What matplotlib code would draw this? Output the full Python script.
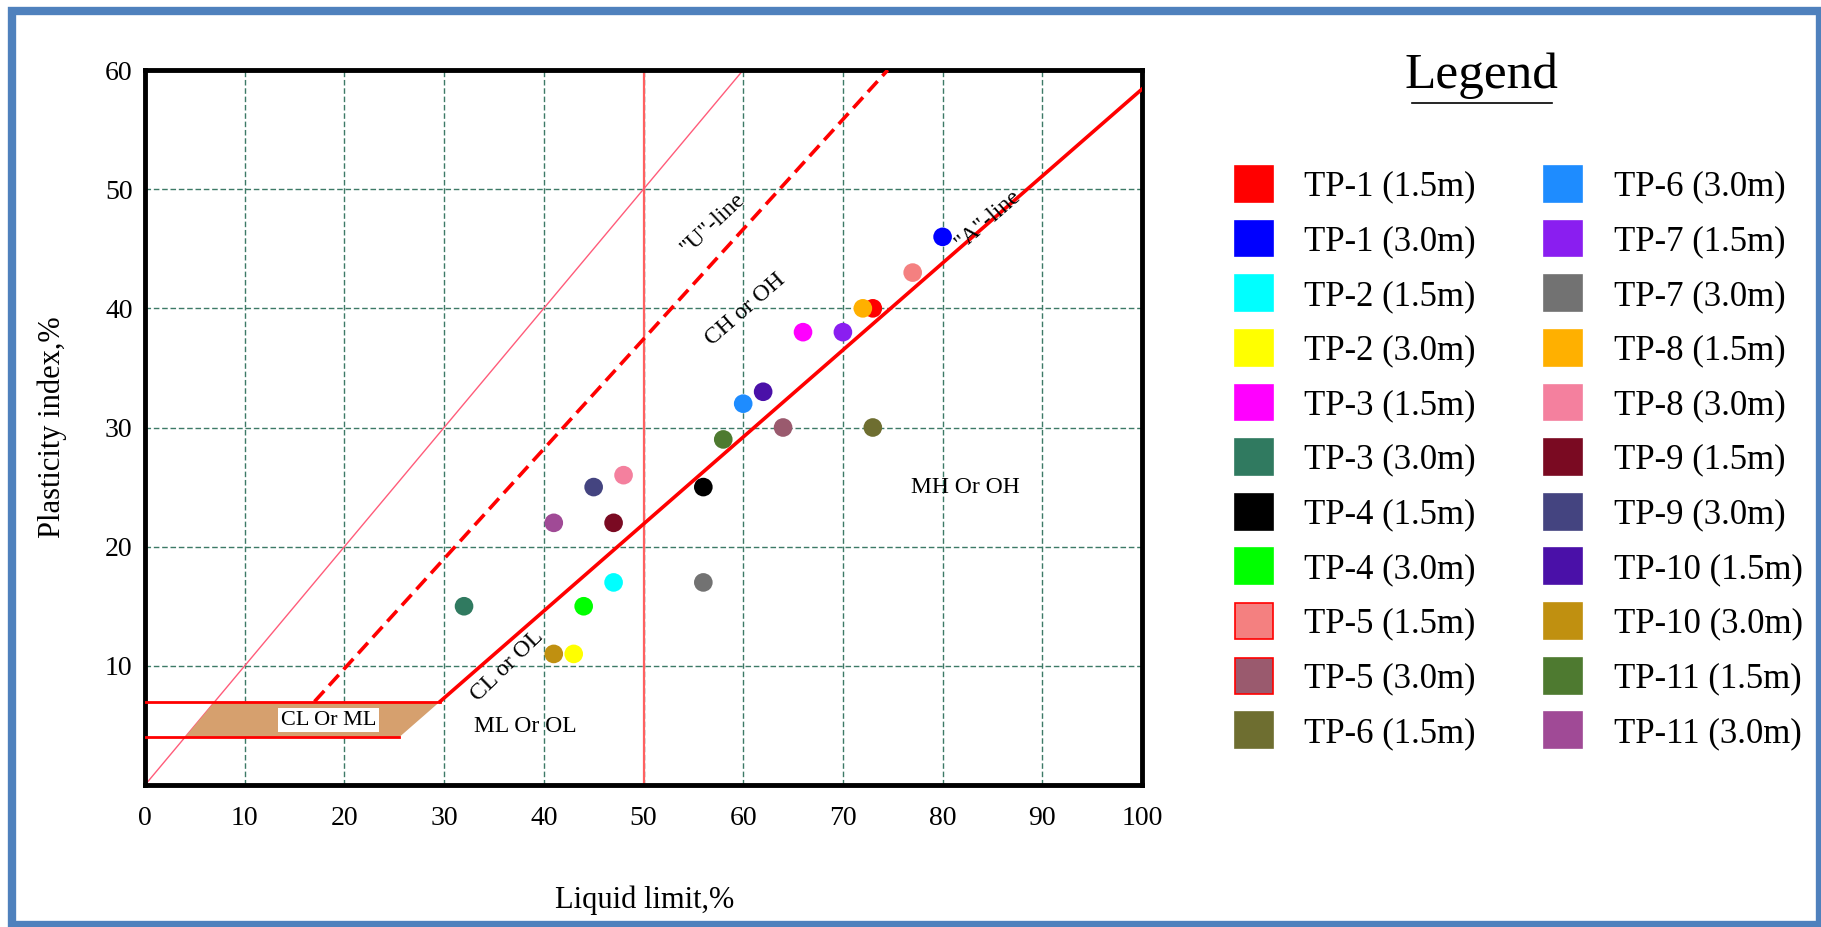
import numpy as np
import matplotlib
matplotlib.use("Agg")
import matplotlib.pyplot as plt
from matplotlib.patches import Patch, Rectangle, Polygon
from matplotlib.lines import Line2D

plt.rcParams['font.family'] = ['Liberation Serif', 'DejaVu Serif']

# samples: name, liquid limit, plasticity index, colour
samples = ['TP-1 (1.5m)', 'TP-1 (3.0m)', 'TP-2 (1.5m)', 'TP-2 (3.0m)',
           'TP-3 (1.5m)', 'TP-3 (3.0m)', 'TP-4 (1.5m)', 'TP-4 (3.0m)',
           'TP-5 (1.5m)', 'TP-5 (3.0m)', 'TP-6 (1.5m)', 'TP-6 (3.0m)',
           'TP-7 (1.5m)', 'TP-7 (3.0m)', 'TP-8 (1.5m)', 'TP-8 (3.0m)',
           'TP-9 (1.5m)', 'TP-9 (3.0m)', 'TP-10 (1.5m)', 'TP-10 (3.0m)',
           'TP-11 (1.5m)', 'TP-11 (3.0m)']
liquid_limit = [73, 80, 47, 43, 66, 32, 56, 44, 77, 64, 73,
                60, 70, 56, 72, 48, 47, 45, 62, 41, 58, 41]
plastic_index = [40, 46, 17, 11, 38, 15, 25, 15, 43, 30, 30,
                 32, 38, 17, 40, 26, 22, 25, 33, 11, 29, 22]
colors = ['#ff0000', '#0000ff', '#00ffff', '#ffff00', '#ff00ff', '#307a60',
          '#000000', '#00ff00', '#f48080', '#9a5a6e', '#6e6e30', '#1e8cff',
          '#8a1ef0', '#727272', '#ffb000', '#f4809e', '#7a0a22', '#444480',
          '#4a10a8', '#c09010', '#4e7a30', '#a04a96']
legend_edges = ['none'] * len(samples)
legend_edges[8] = '#ff0000'
legend_edges[9] = '#ff0000'

# chart lines
u_line_ll = [17.0, 74.5]
u_line_pi = [7, 60]

fig = plt.figure(figsize=(18.21, 9.27), dpi=100)
ax = fig.add_axes([145 / 1821, 1 - 785 / 927, 997 / 1821, 715 / 927])

ax.set_xlim(0, 100)
ax.set_ylim(0, 60)
ax.set_xticks(range(0, 101, 10))
ax.set_yticks(range(10, 61, 10))
ax.tick_params(length=0, labelsize=20)
ax.tick_params(axis='x', pad=15)
ax.tick_params(axis='y', pad=9)
ax.grid(True, color='#3d7a66', linestyle=(0, (4, 2)), linewidth=1)
for s in ax.spines.values():
    s.set_linewidth(3.5)
    s.set_color('black')

# reference lines
ax.axvline(50, color='#ff6060', lw=1.6, zorder=2)
ax.plot([0, 60], [0, 60], color='#ff5c7a', lw=1, zorder=2)

a_ll = np.array([20 + 7 / 0.73, 100])
ax.plot(a_ll, 0.73 * (a_ll - 20), color='red', lw=2.6, zorder=3)
ax.plot(u_line_ll, u_line_pi, color='red', lw=2.6, ls=(0, (4, 2)), zorder=3)

# CL-ML zone
ax.add_patch(Polygon([(4, 4), (20 + 4 / 0.73, 4), (20 + 7 / 0.73, 7), (7, 7)],
                     closed=True, facecolor='#d6a06e', edgecolor='none', zorder=2))
ax.plot([0, 20 + 4 / 0.73], [4, 4], color='red', lw=2, zorder=3)
ax.plot([0, 20 + 7 / 0.73], [7, 7], color='red', lw=2, zorder=3)

ax.scatter(liquid_limit, plastic_index, s=180, c=colors, edgecolors='none', zorder=5)

# zone labels
a_ang = np.degrees(np.arctan(0.73))
ax.text(18.4, 5.45, 'CL Or ML', fontsize=16, ha='center', va='center', zorder=6,
        bbox=dict(facecolor='white', edgecolor='none', pad=2))
ax.text(38.1, 4.95, 'ML Or OL', fontsize=17, ha='center', va='center')
ax.text(82.3, 25.0, 'MH Or OH', fontsize=17, ha='center', va='center')
ax.text(36.3, 10.0, 'CL or OL', fontsize=17, ha='center', va='center',
        rotation=a_ang + 3, transform_rotates_text=True, rotation_mode='anchor')
ax.text(60.2, 39.9, 'CH or OH', fontsize=17, ha='center', va='center',
        rotation=a_ang, transform_rotates_text=True, rotation_mode='anchor')
ax.text(57.0, 47.1, '"U"-line', fontsize=17, ha='center', va='center',
        rotation=a_ang + 2, transform_rotates_text=True, rotation_mode='anchor')
ax.text(84.5, 47.4, '"A"-line', fontsize=17, ha='center', va='center',
        rotation=a_ang, transform_rotates_text=True, rotation_mode='anchor')

ax.set_xlabel('Liquid limit,%', fontsize=22, va='center')
ax.xaxis.set_label_coords(0.5015, -0.161)
ax.set_ylabel('Plasticity index,%', fontsize=22, va='center')
ax.yaxis.set_label_coords(-0.093, 0.5)

# legend
handles = [Patch(facecolor=c, edgecolor=(e if e != 'none' else c), linewidth=1.2)
           for c, e in zip(colors, legend_edges)]
fig.legend(handles, samples, ncol=2, loc='upper left', frameon=False,
           bbox_to_anchor=(1235 / 1821, 1 - 166 / 927), borderpad=0,
           borderaxespad=0, fontsize=25, handlelength=1.08, handleheight=1.21,
           handletextpad=0.92, labelspacing=0.49, columnspacing=1.96)
fig.text(1481 / 1821, 1 - 76 / 927, 'Legend', fontsize=37, ha='center', va='center')
fig.add_artist(Line2D([1412 / 1821, 1552 / 1821], [1 - 103 / 927, 1 - 103 / 927],
                      color='black', lw=1.2, transform=fig.transFigure))

# outer blue frame
fig.add_artist(Rectangle((12 / 1821, 2 / 927), 1808 / 1821, 914 / 927, fill=False,
                         edgecolor='#4f81bd', lw=6, transform=fig.transFigure))

fig.savefig('out.png', dpi=100)
plt.close(fig)
